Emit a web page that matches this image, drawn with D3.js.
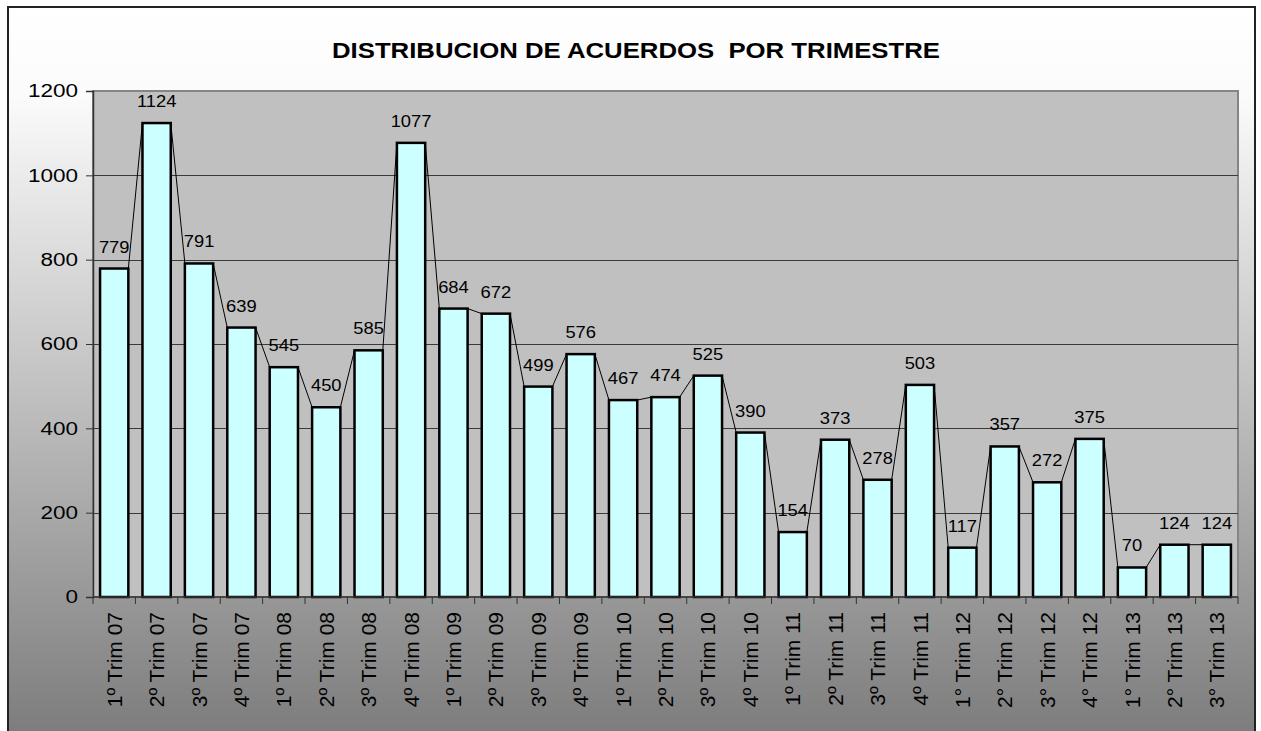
<!DOCTYPE html>
<html>
<head>
<meta charset="utf-8">
<script src="https://cdn.jsdelivr.net/npm/d3@7"></script>
<style>
  html, body { margin: 0; padding: 0; background: #ffffff; }
  svg { display: block; font-family: Arial, "Liberation Sans", sans-serif; }
</style>
</head>
<body>
<svg id="chart" width="1261" height="731"></svg>
<script>
const title = "DISTRIBUCION DE ACUERDOS  POR TRIMESTRE";
const categories = [
  "1º Trim 07", "2º Trim 07", "3º Trim 07", "4º Trim 07",
  "1º Trim 08", "2º Trim 08", "3º Trim 08", "4º Trim 08",
  "1º Trim 09", "2º Trim 09", "3º Trim 09", "4º Trim 09",
  "1º Trim 10", "2º Trim 10", "3º Trim 10", "4º Trim 10",
  "1º Trim 11", "2º Trim 11", "3º Trim 11", "4º Trim 11",
  "1° Trim 12", "2° Trim 12", "3° Trim 12", "4° Trim 12",
  "1° Trim 13", "2° Trim 13", "3° Trim 13"
];
const values = [
  779, 1124, 791, 639,
  545, 450, 585, 1077,
  684, 672, 499, 576,
  467, 474, 525, 390,
  154, 373, 278, 503,
  117, 357, 272, 375,
  70, 124, 124
];
const yTicks = [0, 200, 400, 600, 800, 1000, 1200];

const svg = d3.select("#chart");
const plot = { left: 93, right: 1238, top: 91, bottom: 597 };

// background gradient
const defs = svg.append("defs");
const grad = defs.append("linearGradient")
  .attr("id", "bg").attr("x1", 0).attr("y1", 0).attr("x2", 0).attr("y2", 1);
grad.append("stop").attr("offset", "0%").attr("stop-color", "#ffffff");
grad.append("stop").attr("offset", "12%").attr("stop-color", "#fbfbfb");
grad.append("stop").attr("offset", "100%").attr("stop-color", "#7a7a7a");

svg.append("rect")
  .attr("x", 8).attr("y", 7).attr("width", 1247).attr("height", 740)
  .attr("fill", "url(#bg)")
  .attr("stroke", "#222").attr("stroke-width", 2);

// title
svg.append("text")
  .attr("x", 636).attr("y", 58)
  .attr("text-anchor", "middle")
  .attr("font-size", 22).attr("font-weight", "bold")
  .attr("textLength", 608).attr("lengthAdjust", "spacingAndGlyphs")
  .style("white-space", "pre")
  .attr("fill", "#000")
  .text(title);

// scales
const x = d3.scaleBand()
  .domain(categories)
  .range([plot.left, plot.right])
  .paddingInner(1 / 3)
  .paddingOuter(1 / 6);
const y = d3.scaleLinear().domain([0, 1200]).range([plot.bottom, plot.top]);

// plot area
svg.append("rect")
  .attr("x", plot.left).attr("y", plot.top)
  .attr("width", plot.right - plot.left).attr("height", plot.bottom - plot.top)
  .attr("fill", "#c0c0c0")
  .attr("stroke", "#858585").attr("stroke-width", 2);

// gridlines
svg.append("g").selectAll("line")
  .data(yTicks.filter(t => t > 0 && t < 1200))
  .join("line")
  .attr("x1", plot.left).attr("x2", plot.right)
  .attr("y1", d => Math.round(y(d)) + 0.5).attr("y2", d => Math.round(y(d)) + 0.5)
  .attr("stroke", "#3a3a3a").attr("stroke-width", 1);

// series lines (connect bar tops)
const bw = x.bandwidth();
svg.append("g").selectAll("line")
  .data(values.slice(0, -1).map((v, i) => [i, v, values[i + 1]]))
  .join("line")
  .attr("x1", d => x(categories[d[0]]) + bw)
  .attr("y1", d => y(d[1]))
  .attr("x2", d => x(categories[d[0] + 1]))
  .attr("y2", d => y(d[2]))
  .attr("stroke", "#000").attr("stroke-width", 1);

// bars
svg.append("g").selectAll("rect")
  .data(values)
  .join("rect")
  .attr("x", (d, i) => x(categories[i]))
  .attr("y", d => y(d))
  .attr("width", bw)
  .attr("height", d => y(0) - y(d))
  .attr("fill", "#ccffff")
  .attr("stroke", "#000").attr("stroke-width", 2.5);

// value labels
svg.append("g").selectAll("text")
  .data(values)
  .join("text")
  .attr("transform", (d, i) => `translate(${x(categories[i]) + bw / 2},${y(d) - 16}) scale(1.08,1)`)
  .attr("text-anchor", "middle")
  .attr("font-size", 17)
  .attr("fill", "#000")
  .text(d => d);

// y axis
const yAxis = svg.append("g")
  .attr("transform", `translate(${plot.left},0)`)
  .call(d3.axisLeft(y).tickValues(yTicks).tickFormat(d3.format("d")).tickSize(7).tickPadding(8));
yAxis.select(".domain").attr("stroke", "#333").attr("stroke-width", 1.5);
yAxis.selectAll(".tick line").attr("stroke", "#333");
yAxis.selectAll(".tick text")
  .attr("font-size", 18)
  .attr("font-family", "Arial, 'Liberation Sans', sans-serif")
  .attr("fill", "#000")
  .attr("x", null)
  .attr("transform", "translate(-15,0) scale(1.25,1)");

// x axis line
svg.append("line")
  .attr("x1", plot.left).attr("x2", plot.right)
  .attr("y1", plot.bottom).attr("y2", plot.bottom)
  .attr("stroke", "#333").attr("stroke-width", 1.5);

// x ticks at category boundaries
const step = x.step();
svg.append("g").selectAll("line")
  .data(d3.range(categories.length + 1))
  .join("line")
  .attr("x1", i => plot.left + i * step).attr("x2", i => plot.left + i * step)
  .attr("y1", plot.bottom).attr("y2", plot.bottom + 7)
  .attr("stroke", "#333").attr("stroke-width", 1);

// category labels
svg.append("g").selectAll("text")
  .data(categories)
  .join("text")
  .attr("transform", d => `translate(${x(d) + bw / 2},612) rotate(-90)`)
  .attr("text-anchor", "end")
  .attr("dy", "0.36em")
  .attr("font-size", 21)
  .attr("fill", "#000")
  .text(d => d);
</script>
</body>
</html>
